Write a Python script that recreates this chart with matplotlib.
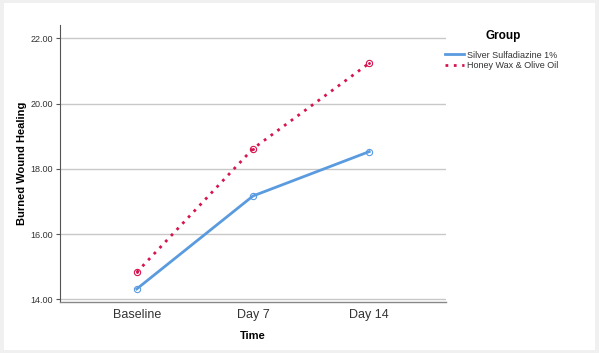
import matplotlib
matplotlib.use("Agg")
import matplotlib.pyplot as plt
from matplotlib.patches import Rectangle

categories = ["Baseline", "Day 7", "Day 14"]
silver = [14.32, 17.17, 18.53]
honey = [14.83, 18.62, 21.24]
yticks = [14.0, 16.0, 18.0, 20.0, 22.0]

plt.rcParams['font.family'] = ['Liberation Sans', 'DejaVu Sans']

W, H = 599, 353
fig = plt.figure(figsize=(W/100, H/100), dpi=100)
fig.patch.set_facecolor('#f0f0f0')
bg = fig.add_axes([0, 0, 1, 1], zorder=-10)
bg.set_xlim(0, W)
bg.set_ylim(H, 0)
bg.axis('off')
bg.add_patch(Rectangle((4, 3), 591, 347, facecolor='white', edgecolor='none'))

left, right, top, bottom = 60, 446, 25, 302
ax = fig.add_axes([left/W, 1 - bottom/H, (right-left)/W, (bottom-top)/H])
ax.set_facecolor('white')

x = list(range(len(categories)))
blue = '#5a9be0'
red = '#d6154f'
ax.plot(x, silver, color=blue, lw=2, marker='o', ms=4.5, mfc='none',
        mec=blue, mew=0.8, label='Silver Sulfadiazine 1%', zorder=3)
ax.plot(x, honey, color=red, lw=2, ls=(0, (1, 2.0)), marker='o', ms=4.5,
        mfc='none', mec=red, mew=0.8, label='Honey Wax & Olive Oil', zorder=3)
ax.plot(x, honey, ls='none', marker='.', ms=2, color=red, zorder=4)

ax.set_xlim(-0.66, 2.66)
ax.set_ylim(13.92, 22.41)
ax.set_yticks(yticks)
ax.set_yticklabels([f"{v:.2f}" for v in yticks], fontsize=6.5, color='#333333')
ax.set_xticks(x)
ax.set_xticklabels(categories, fontsize=9, color='#333333')
ax.tick_params(axis='x', length=0, pad=5)
ax.tick_params(axis='y', length=3, width=0.8, color='#555555', pad=2)
ax.grid(axis='y', color='#c8c8c8', lw=1)
ax.set_axisbelow(True)
for s in ['top', 'right']:
    ax.spines[s].set_visible(False)
ax.spines['left'].set_color('#555555')
ax.spines['bottom'].set_color('#888888')
ax.spines['left'].set_linewidth(0.8)
ax.spines['bottom'].set_linewidth(1.0)

ax.set_ylabel('Burned Wound Healing', fontsize=8, fontweight='bold', va='center')
ax.yaxis.set_label_coords((22 - left) / (right - left), 0.5)
ax.set_xlabel('Time', fontsize=8, fontweight='bold', va='center')
ax.xaxis.set_label_coords(0.5, -(336 - bottom) / (bottom - top))

fig.text(503/W, 1 - 36/H, 'Group', fontsize=8.5, fontweight='bold',
         ha='center', va='center')
leg = fig.legend(loc='upper left', bbox_to_anchor=(441/W, 1 - 47/H),
                 frameon=False, fontsize=6.5,
                 handlelength=2.2, handletextpad=0.3, labelspacing=0.2,
                 borderaxespad=0)
for h in leg.get_lines():
    h.set_marker('')
for t in leg.get_texts():
    t.set_color('#333333')

fig.savefig('out.png', dpi=100, facecolor=fig.get_facecolor())
